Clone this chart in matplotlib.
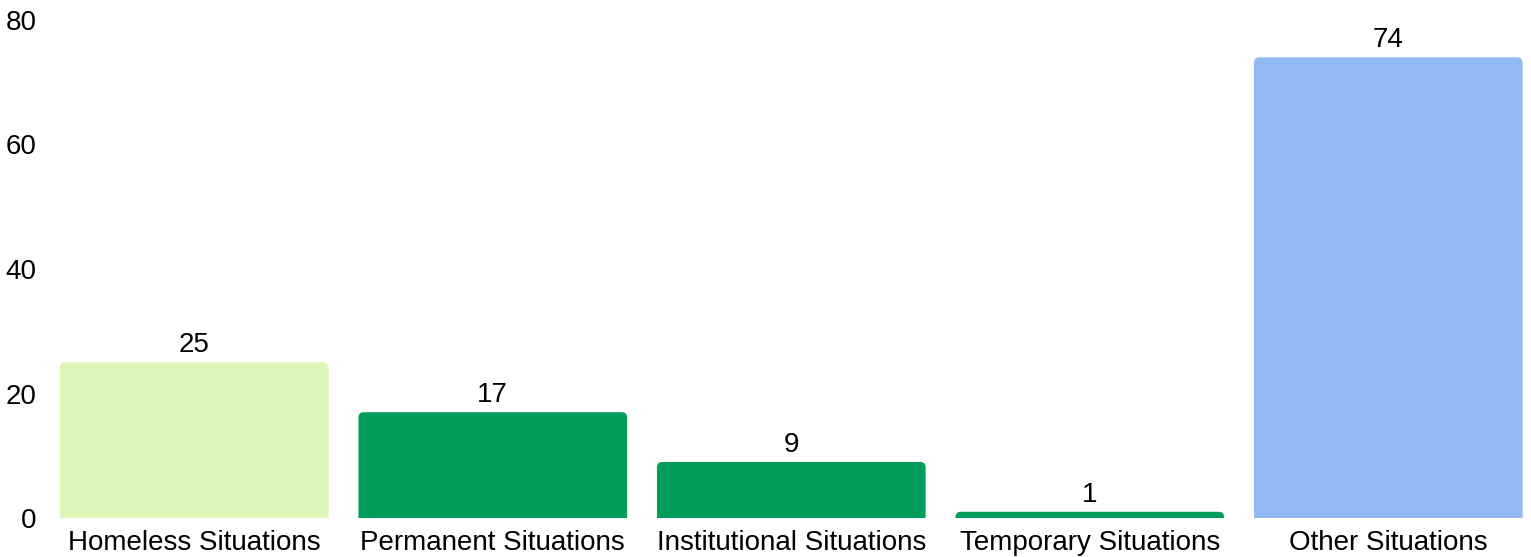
import numpy as np
import matplotlib.pyplot as plt
from matplotlib.patches import FancyBboxPatch

plt.rcParams['font.family'] = ['Liberation Sans', 'DejaVu Sans']

categories = ["Homeless Situations", "Permanent Situations", "Institutional Situations",
              "Temporary Situations", "Other Situations"]
values = [25, 17, 9, 1, 74]
colors = ["#dbf6b7", "#009e5a", "#009e5a", "#009e5a", "#93b9f4"]

fig = plt.figure(figsize=(15.31, 5.57), dpi=100)
ax = fig.add_axes([45 / 1531, 39 / 557, 1 - 45 / 1531, 498 / 557])

x = np.arange(len(categories))
width = 0.9
# invisible bars only to place labels
bars = ax.bar(x, values, width=width, color="none")

# rounded top corners, bottom hidden below the axis
for xi, v, c in zip(x, values, colors):
    box = FancyBboxPatch((xi - width / 2, -3), width, v + 3,
                         boxstyle="round,pad=0,rounding_size=0.018",
                         mutation_aspect=48, facecolor=c, edgecolor="none")
    ax.add_patch(box)

ax.bar_label(bars, labels=[str(v) for v in values], padding=3, fontsize=20)

ax.set_xlim(-0.5, 4.478)
ax.set_ylim(0, 80)
ax.set_yticks([0, 20, 40, 60, 80])
ax.set_xticks(x)
ax.set_xticklabels(categories)
ax.tick_params(axis="both", length=0, labelsize=20)
ax.tick_params(axis="x", pad=9)
ax.tick_params(axis="y", pad=6)
for s in ax.spines.values():
    s.set_visible(False)

fig.savefig("out.png", dpi=100)
